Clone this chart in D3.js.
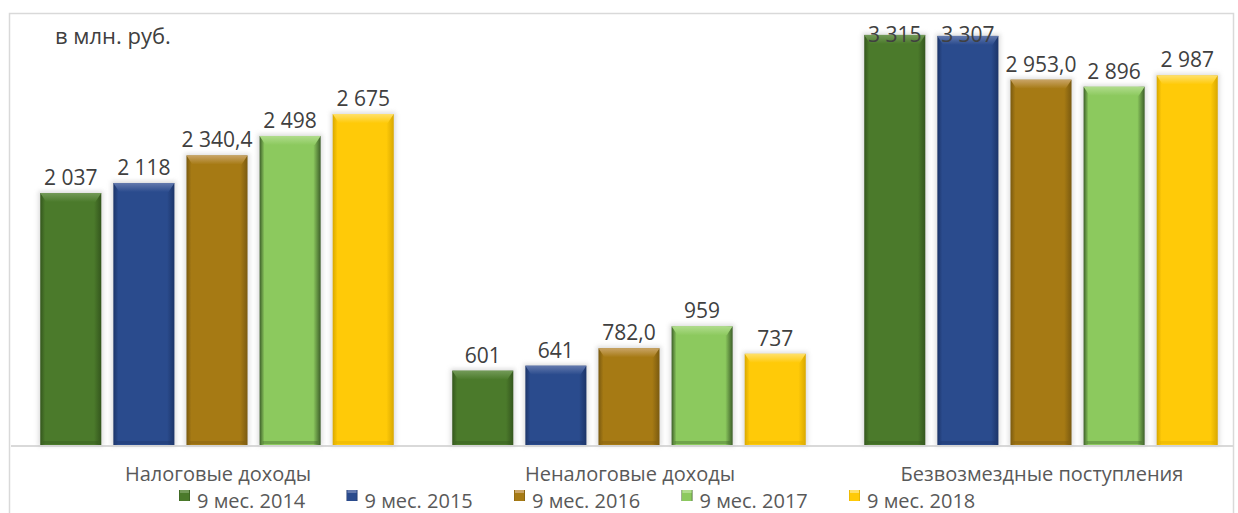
<!DOCTYPE html>
<html>
<head>
<meta charset="utf-8">
<script src="https://cdn.jsdelivr.net/npm/d3@7"></script>
<style>
  body { margin: 0; background: #fff; }
  svg text { font-family: "Open Sans", "Noto Sans", sans-serif; }
</style>
</head>
<body>
<svg id="chart" width="1238" height="513"></svg>
<script>
// data
const categories = ["Налоговые доходы", "Неналоговые доходы", "Безвозмездные поступления"];
const seriesNames = ["9 мес. 2014", "9 мес. 2015", "9 мес. 2016", "9 мес. 2017", "9 мес. 2018"];
const values2014 = [2037, 601, 3315];
const values2015 = [2118, 641, 3307];
const values2016 = [2340.4, 782.0, 2953.0];
const values2017 = [2498, 959, 2896];
const values2018 = [2675, 737, 2987];
const valueLabels = [
  ["2 037", "601", "3 315"],
  ["2 118", "641", "3 307"],
  ["2 340,4", "782,0", "2 953,0"],
  ["2 498", "959", "2 896"],
  ["2 675", "737", "2 987"]
];
const allValues = [values2014, values2015, values2016, values2017, values2018];

// main, light (top bevel), dark (edges)
const colors = [
  { main: "#4b7a2b", light: "#739a58", dark: "#34561d" },
  { main: "#2a4b8d", light: "#6379ad", dark: "#1c3468" },
  { main: "#a67a14", light: "#c9a466", dark: "#7a5a10" },
  { main: "#8cc95e", light: "#b0dc8c", dark: "#3d5f29" },
  { main: "#ffca08", light: "#ffe06a", dark: "#d9a800" }
];

const svg = d3.select("#chart");
const baseY = 445;

// outer frame
svg.append("rect")
  .attr("x", 9.5).attr("y", 13.5)
  .attr("width", 1224).attr("height", 520)
  .attr("fill", "none").attr("stroke", "#d9d9d9").attr("stroke-width", 1.5);

const x0 = d3.scaleBand().domain(categories).range([11, 1247]);
const x1 = d3.scaleBand().domain(seriesNames).range([0, x0.bandwidth()])
  .paddingInner(0.165).paddingOuter(0.4);
const y = d3.scaleLinear().domain([0, 3500]).range([baseY, 12]);

const defs = svg.append("defs");
colors.forEach((c, i) => {
  const h = defs.append("linearGradient").attr("id", "h" + i)
    .attr("x1", 0).attr("x2", 1).attr("y1", 0).attr("y2", 0);
  h.append("stop").attr("offset", "0").attr("stop-color", c.dark);
  h.append("stop").attr("offset", "0.08").attr("stop-color", c.main);
  h.append("stop").attr("offset", "0.88").attr("stop-color", c.main);
  h.append("stop").attr("offset", "1").attr("stop-color", c.dark);
  const v = defs.append("linearGradient").attr("id", "v" + i)
    .attr("x1", 0).attr("x2", 0).attr("y1", 0).attr("y2", 1);
  v.append("stop").attr("offset", "0").attr("stop-color", c.light);
  v.append("stop").attr("offset", "1").attr("stop-color", c.main);
});
const blur = defs.append("filter").attr("id", "halo")
  .attr("x", "-20%").attr("y", "-20%").attr("width", "140%").attr("height", "140%");
blur.append("feGaussianBlur").attr("stdDeviation", 2);

// baseline
svg.append("line")
  .attr("x1", 11).attr("x2", 1233).attr("y1", baseY + 1).attr("y2", baseY + 1)
  .attr("stroke", "#d9d9d9").attr("stroke-width", 2);

const bars = [];
seriesNames.forEach((s, i) => {
  categories.forEach((cat, j) => {
    bars.push({ s: i, cat: cat, value: allValues[i][j], label: valueLabels[i][j] });
  });
});

const g = svg.append("g");
bars.forEach(d => {
  const bx = x0(d.cat) + x1(seriesNames[d.s]);
  const bw = x1.bandwidth();
  const by = y(d.value);
  const bh = baseY - by;
  // soft shadow around bar
  g.append("rect").attr("x", bx - 2).attr("y", by - 2)
    .attr("width", bw + 4).attr("height", bh + 3)
    .attr("fill", "#c8c8c8").attr("opacity", 0.6).attr("filter", "url(#halo)");
  g.append("rect").attr("x", bx).attr("y", by)
    .attr("width", bw).attr("height", bh)
    .attr("fill", "url(#h" + d.s + ")");
  // top bevel
  g.append("path")
    .attr("d", `M${bx},${by} L${bx + bw},${by} L${bx + bw - 6},${by + 9} L${bx + 6},${by + 9} Z`)
    .attr("fill", "url(#v" + d.s + ")");
  // bottom bevel
  g.append("rect").attr("x", bx + 3).attr("y", baseY - 4)
    .attr("width", bw - 6).attr("height", 3)
    .attr("fill", colors[d.s].dark).attr("opacity", 0.35);
  g.append("text")
    .attr("x", bx + bw / 2)
    .attr("y", Math.max(by - 8, 42))
    .attr("text-anchor", "middle")
    .attr("font-size", 21)
    .attr("fill", "#404040")
    .text(d.label);
});

// category labels
svg.selectAll(".cat").data(categories).enter().append("text")
  .attr("x", d => x0(d) + x0.bandwidth() / 2 + 1)
  .attr("y", 480.5)
  .attr("text-anchor", "middle")
  .attr("font-size", 20)
  .attr("fill", "#595959")
  .text(d => d);

svg.append("text")
  .attr("x", 55).attr("y", 44)
  .attr("font-size", 22)
  .attr("fill", "#404040")
  .text("в млн. руб.");

// legend
const legend = svg.append("g");
seriesNames.forEach((s, i) => {
  const lx = 179 + i * 167.5;
  legend.append("rect").attr("x", lx).attr("y", 490)
    .attr("width", 11).attr("height", 11)
    .attr("fill", "url(#h" + i + ")");
  legend.append("rect").attr("x", lx + 1).attr("y", 490)
    .attr("width", 9).attr("height", 3)
    .attr("fill", colors[i].light);
  legend.append("text").attr("x", lx + 18).attr("y", 507.5)
    .attr("font-size", 20).attr("fill", "#595959")
    .text(s);
});
</script>
</body>
</html>
